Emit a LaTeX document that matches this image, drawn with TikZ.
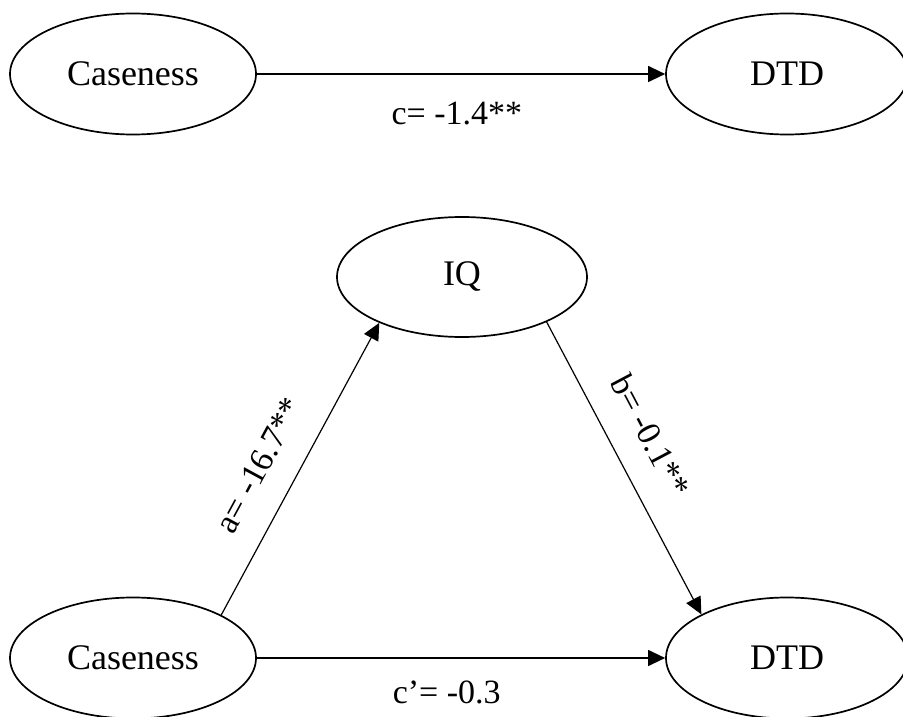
\documentclass[tikz,border=0pt]{standalone}
\usepackage{fontspec}
\setmainfont{Liberation Serif}
\usetikzlibrary{arrows.meta,shapes.geometric}
\begin{document}
\begin{tikzpicture}[x=1pt,y=1pt,
  var/.style={ellipse, draw, line width=1.7pt, inner sep=0pt,
    minimum width=246pt, minimum height=121pt,
    font=\fontsize{36}{40}\selectfont},
  conn/.style={line width=1.2pt, -{Triangle[length=17pt,width=16pt]}},
  lbl/.style={inner sep=0pt, font=\fontsize{34}{38}\selectfont}]
\useasboundingbox (0,0) rectangle (903,716);
\node[var] (cas1) at (133,642) {Caseness};
\node[var, minimum width=242pt] (dtd1) at (787,642) {DTD};
\node[var, minimum width=250pt, minimum height=120pt] (iq) at (462,439) {IQ};
\node[var] (cas2) at (133,58) {Caseness};
\node[var, minimum width=242pt] (dtd2) at (787,58) {DTD};
\draw[conn] (cas1.east) -- (dtd1.west)
  node[lbl, pos=0.49, anchor=base, yshift=-51pt] {c= -1.4**};
\draw[conn] (cas2.east) -- (dtd2.west)
  node[lbl, pos=0.465, anchor=base, yshift=-45pt] {c’= -0.3};
\draw[conn] (cas2.26) -- (iq.209)
  node[lbl, pos=0.45, sloped, above=26pt] {a= -16.7**};
\draw[conn] (iq.332) -- (dtd2.153)
  node[lbl, pos=0.45, sloped, above=26pt] {b= -0.1**};
\end{tikzpicture}
\end{document}
